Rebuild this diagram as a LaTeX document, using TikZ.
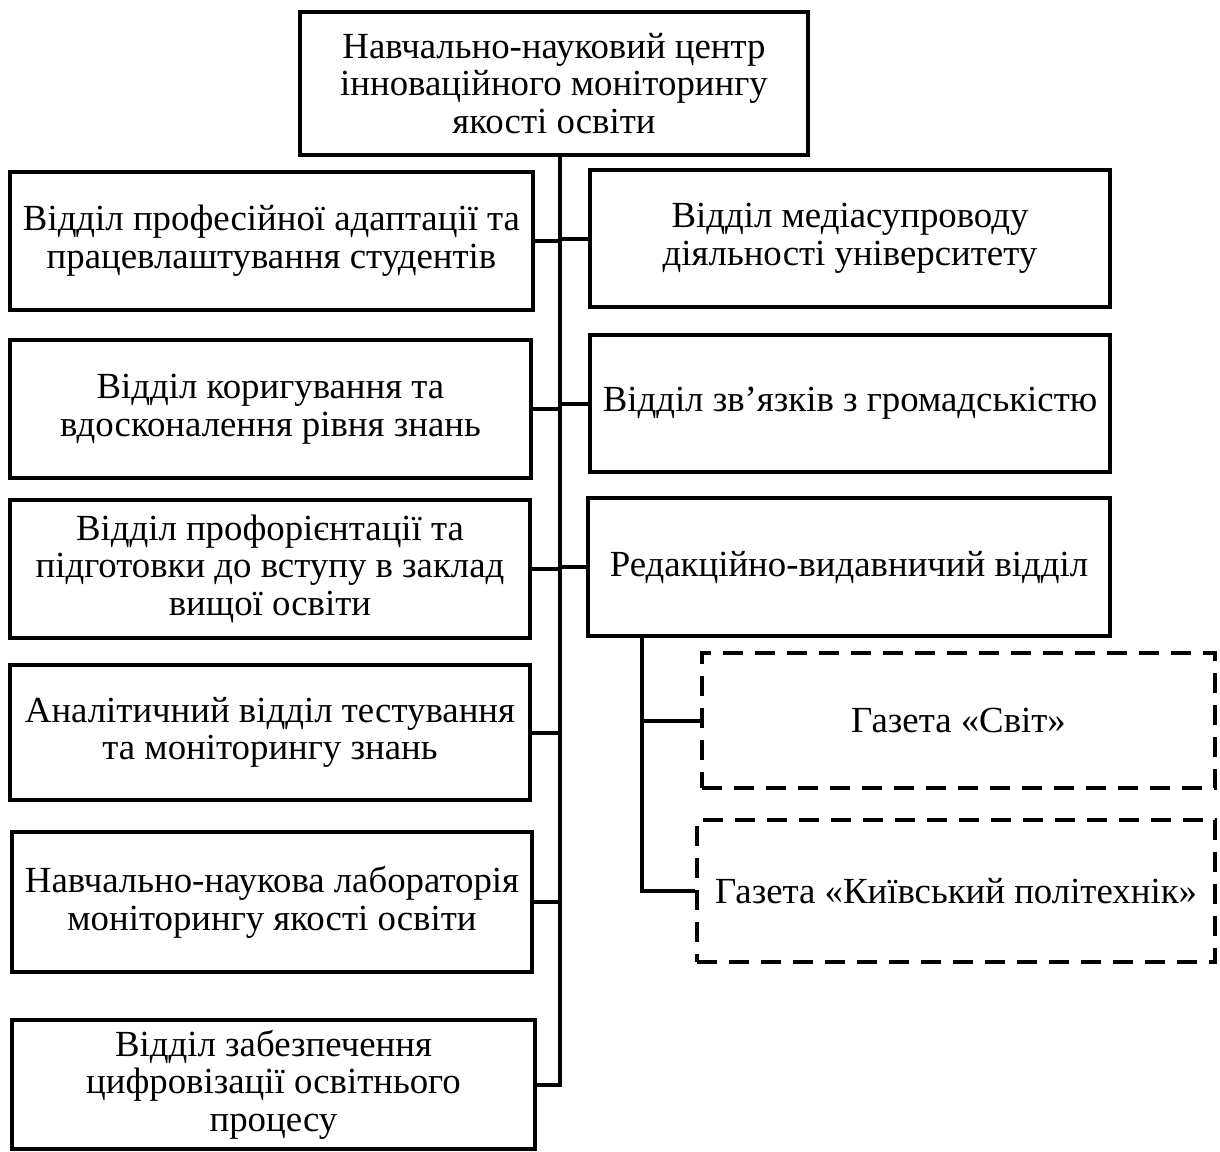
\documentclass[tikz,border=0pt]{standalone}
\usepackage{fontspec}
\setmainfont{Liberation Serif}
\usetikzlibrary{positioning}

\begin{document}
\begin{tikzpicture}[x=0.5pt,y=-0.5pt,
 box/.style={draw,line width=2.2pt,inner sep=0pt,align=center,font=\fontsize{18.4}{18.8}\selectfont},
 dbox/.style={box,dash pattern=on 10pt off 6pt},
 link/.style={line width=2pt}]
 \useasboundingbox (0,0) rectangle (1220,1151);
 \node[box,minimum width=254pt,minimum height=71.5pt] (centr) at (554,83.5) {Навчально-науковий центр\\інноваційного моніторингу\\якості освіти};
 \node[box,minimum width=261.5pt,minimum height=69pt] (adapt) at (271.5,241) {Відділ професійної адаптації та\\працевлаштування студентів};
 \node[box,minimum width=260.5pt,minimum height=69pt] (korig) at (270.5,409) {Відділ коригування та\\вдосконалення рівня знань};
 \node[box,minimum width=260pt,minimum height=69pt] (proforient) at (270,569) {Відділ профорієнтації та\\підготовки до вступу в заклад\\вищої освіти};
 \node[box,minimum width=260pt,minimum height=67.5pt] (analit) at (270,732.5) {Аналітичний відділ тестування\\та моніторингу знань};
 \node[box,minimum width=260pt,minimum height=70pt] (labor) at (272,902) {Навчально-наукова лабораторія\\моніторингу якості освіти};
 \node[box,minimum width=261.5pt,minimum height=64.5pt] (tsyfr) at (273.5,1084.5) {Відділ забезпечення\\цифровізації освітнього\\процесу};
 \node[box,minimum width=260pt,minimum height=68.5pt] (media) at (850,238.5) {Відділ медіасупроводу\\діяльності університету};
 \node[box,minimum width=260pt,minimum height=68.5pt] (hromad) at (850,403.5) {Відділ зв’язків з громадськістю};
 \node[box,minimum width=261pt,minimum height=69pt] (redak) at (849,567) {Редакційно-видавничий відділ};
 \node[dbox,minimum width=256.5pt,minimum height=67.5pt] (svit) at (958.5,720.5) {Газета «Світ»};
 \node[dbox,minimum width=259pt,minimum height=71pt] (kpi) at (956,891) {Газета «Київський політехнік»};
 \coordinate (trunk) at (560,0);
 \coordinate (branch) at (642,0);
 \draw[link] (centr.south -| trunk) -- (tsyfr.east -| trunk) -- (tsyfr.east);
 \draw[link] (adapt.east) -- (adapt.east -| trunk);
 \draw[link] (korig.east) -- (korig.east -| trunk);
 \draw[link] (proforient.east) -- (proforient.east -| trunk);
 \draw[link] (analit.east) -- (analit.east -| trunk);
 \draw[link] (labor.east) -- (labor.east -| trunk);
 \draw[link] (media.west) -- (media.west -| trunk);
 \draw[link] (hromad.west) -- (hromad.west -| trunk);
 \draw[link] (redak.west) -- (redak.west -| trunk);
 \draw[link] (redak.south -| branch) |- (kpi.west);
 \draw[link] (svit.west -| branch) -- (svit.west);
\end{tikzpicture}
\end{document}
